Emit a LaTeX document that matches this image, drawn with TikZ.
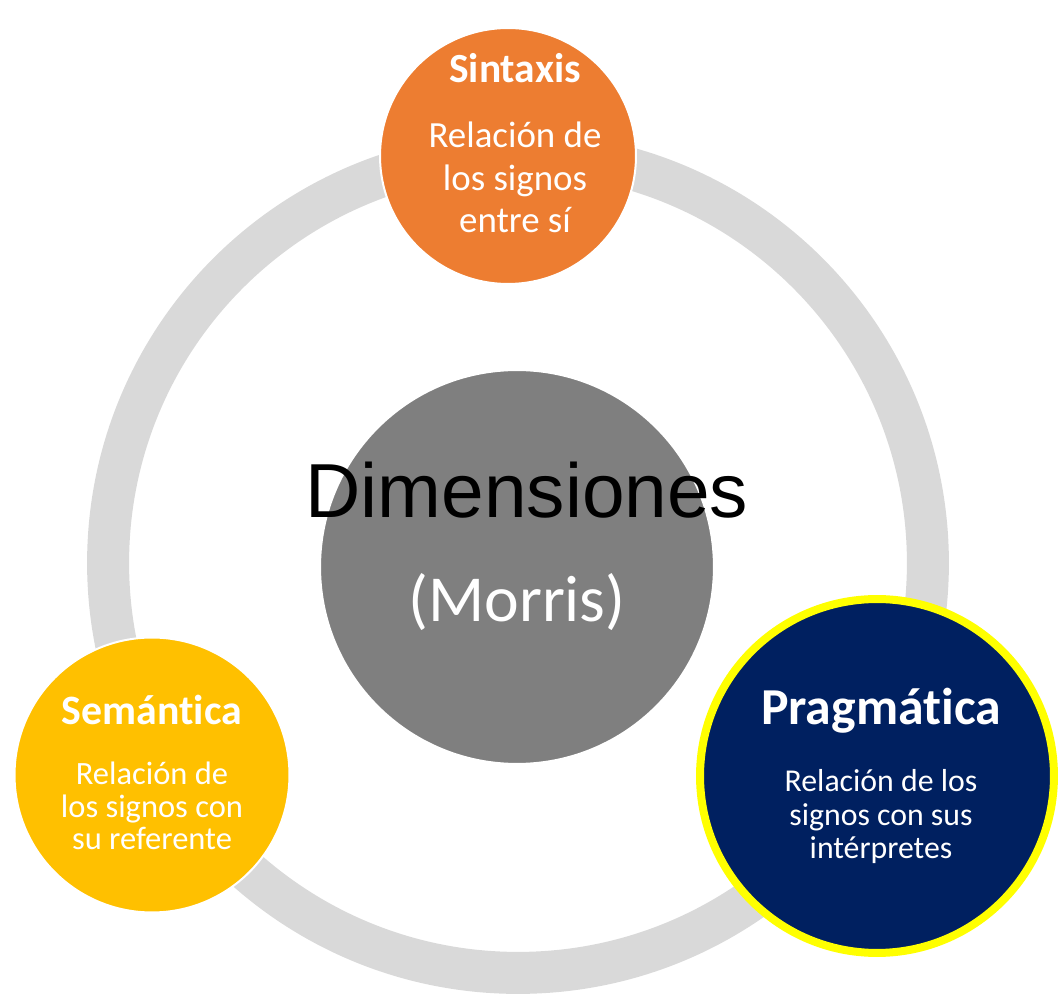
\documentclass[tikz,border=0pt]{standalone}
\usepackage{fontspec}
\setmainfont{Carlito}[Ligatures=NoCommon]
\newfontfamily\arialfont{Liberation Sans}
\usetikzlibrary{positioning}

\definecolor{ringgray}{HTML}{D9D9D9}
\definecolor{midgray}{HTML}{7F7F7F}
\definecolor{sinorange}{HTML}{ED7D31}
\definecolor{semyellow}{HTML}{FFC000}
\definecolor{pragnavy}{HTML}{002060}
\definecolor{pragrim}{HTML}{FFFF00}

\begin{document}
\begin{tikzpicture}[x=0.02cm,y=-0.02cm,
    petal/.style={draw=white,line width=0.04cm,shape=circle,inner sep=0pt},
    title/.style={anchor=base,text=white,inner sep=0pt},
    body/.style={anchor=base,text=white,align=center,inner sep=0pt}]
    \useasboundingbox (0,0) rectangle (1063,996);

    % ring and circles
    \coordinate (c) at (518,563);
    \draw[ringgray,line width=0.84cm] (c) circle (8.2cm);
    \node [petal,fill=midgray,minimum size=7.88cm] (dim) at (517,567) {};
    \node [petal,fill=sinorange,minimum size=5.12cm] (sin) at (508,156) {};
    \node [petal,fill=semyellow,minimum size=5.5cm] (sem) at (152,775) {};
    \node [petal,draw=pragrim,line width=0.16cm,fill=pragnavy,minimum size=7.08cm] (prag) at (877,776) {};

    % texts (body nodes sit on the baseline of their last line)
    \node [anchor=base,inner sep=0pt,font=\arialfont\fontsize{43.6pt}{50pt}\selectfont] (dimT) at (527,518) {Dimensiones};
    \node [title,font=\fontsize{37.4pt}{44pt}\selectfont] (dimB) at (517,622) {(Morris)};

    \node [title,font=\bfseries\fontsize{23.6pt}{28pt}\selectfont] (sinT) at (515,83) {Sintaxis};
    \node [body,font=\fontsize{21pt}{24.4pt}\selectfont] (sinB) at (515,233) {Relación de\\los signos\\entre sí};

    \node [title,font=\bfseries\fontsize{23.8pt}{28pt}\selectfont] (semT) at (152,725) {Semántica};
    \node [body,font=\fontsize{18.5pt}{18.6pt}\selectfont] (semB) at (152,850) {Relación de\\los signos con\\su referente};

    \node [title,font=\bfseries\fontsize{29.5pt}{34pt}\selectfont] (pragT) at (881,725) {Pragmática};
    \node [body,font=\fontsize{18.1pt}{19.2pt}\selectfont] (pragB) at (881,859) {Relación de los\\signos con sus\\intérpretes};
\end{tikzpicture}
\end{document}
